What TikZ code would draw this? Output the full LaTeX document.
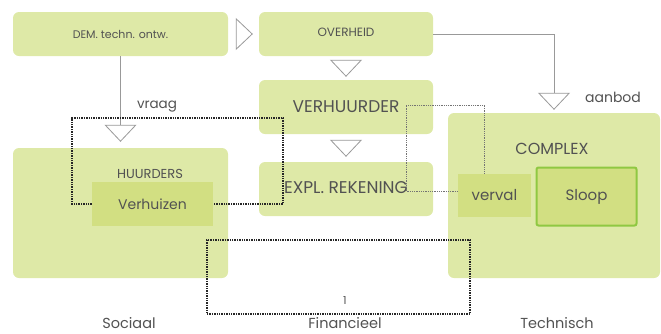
\documentclass[tikz,border=0pt]{standalone}
\usepackage{fontspec}
\setmainfont{Poppins}
\usetikzlibrary{arrows.meta}
\definecolor{vlak}{RGB}{222,233,167}
\definecolor{binnen}{RGB}{210,223,130}
\definecolor{rand}{RGB}{143,200,66}
\definecolor{inkt}{RGB}{82,82,82}
\newcommand{\fs}[1]{\fontsize{#1}{#1}\selectfont}

\begin{document}
\begin{tikzpicture}[x=1pt,y=-1pt,
    blok/.style={fill=vlak,rounded corners=6pt,inner sep=0pt,text=inkt},
    deel/.style={fill=binnen,inner sep=0pt,text=inkt},
    tekst/.style={text=inkt,inner sep=0pt},
    pijl/.style={draw=black!40,line width=0.8pt,-{Triangle[length=17pt,width=32pt,fill=white]}},
    lus/.style={densely dotted,line width=1.4pt,black!85},
    lus dun/.style={densely dotted,line width=0.8pt,black!55}]
    \useasboundingbox (0,0) rectangle (661,333);

    \node[blok,minimum width=215pt,minimum height=44pt] (dem) at (120.5,34) {\fs{11}DEM. techn. ontw.};
    \node[blok,minimum width=174pt,minimum height=44pt] (overheid) at (346,34) {\fs{12}\raisebox{4pt}{OVERHEID}};
    \node[blok,minimum width=174pt,minimum height=54pt] (verhuurder) at (346,107) {\fs{17}VERHUURDER};
    \node[blok,minimum width=174pt,minimum height=54pt] (expl) at (346,189) {\fs{17}\raisebox{2pt}{EXPL. REKENING}};

    \node[blok,minimum width=215pt,minimum height=130pt] (huurders) at (120.5,213) {};
    \node[tekst] (huurders-t) at (150,174) {\fs{13}HUURDERS};
    \node[deel,minimum width=121pt,minimum height=44pt] (verhuizen) at (152.5,204) {\fs{14}Verhuizen};

    \node[blok,minimum width=212pt,minimum height=165pt] (complex) at (554,195.5) {};
    \node[tekst] (complex-t) at (552,149) {\fs{16}COMPLEX};
    \node[deel,minimum width=73pt,minimum height=43pt] (verval) at (494.5,195.5) {\fs{15}verval};
    \node[deel,draw=rand,line width=2pt,rounded corners=2pt,minimum width=100pt,minimum height=58pt] (sloop) at (586.5,196.5) {\fs{15}Sloop};

    % stroom van boven naar beneden
    \draw[pijl,shorten <=9pt,shorten >=6pt] (dem.east) -- (overheid.west);
    \draw[pijl,shorten <=4pt,shorten >=3pt] (overheid.south) -- (verhuurder.north);
    \draw[pijl,shorten <=6pt,shorten >=5pt] (verhuurder.south) -- (expl.north);
    \draw[pijl,shorten >=6pt] (dem.south) -- (huurders.north);
    \draw[pijl,shorten >=3pt] (overheid.east) -| (complex.north);
    \node[tekst] (vraag) at (157,107) {\fs{13.5}vraag};
    \node[tekst] (aanbod) at (613,97) {\fs{14}aanbod};

    % terugkoppelingen
    \coordinate (vraag-l) at (72,118);
    \coordinate (vraag-r) at (283,118);
    \draw[lus] (verhuizen.west) -| (vraag-l) -- (vraag-r) |- (verhuizen.east);
    \coordinate (kosten) at (406,105);
    \draw[lus dun] ([yshift=4pt]verval.west) -| (kosten) -| ([xshift=-10pt]verval.north);
    \node[lus,draw,minimum width=263pt,minimum height=74pt] (kring) at (338.5,277) {};
    \node[tekst] (een) at (345,301) {\fs{11}1};

    \node[tekst] (sociaal) at (129,323) {\fs{14.5}Sociaal};
    \node[tekst] (financieel) at (345,323) {\fs{14.5}Financieel};
    \node[tekst] (technisch) at (557,323) {\fs{14.5}Technisch};
\end{tikzpicture}
\end{document}
